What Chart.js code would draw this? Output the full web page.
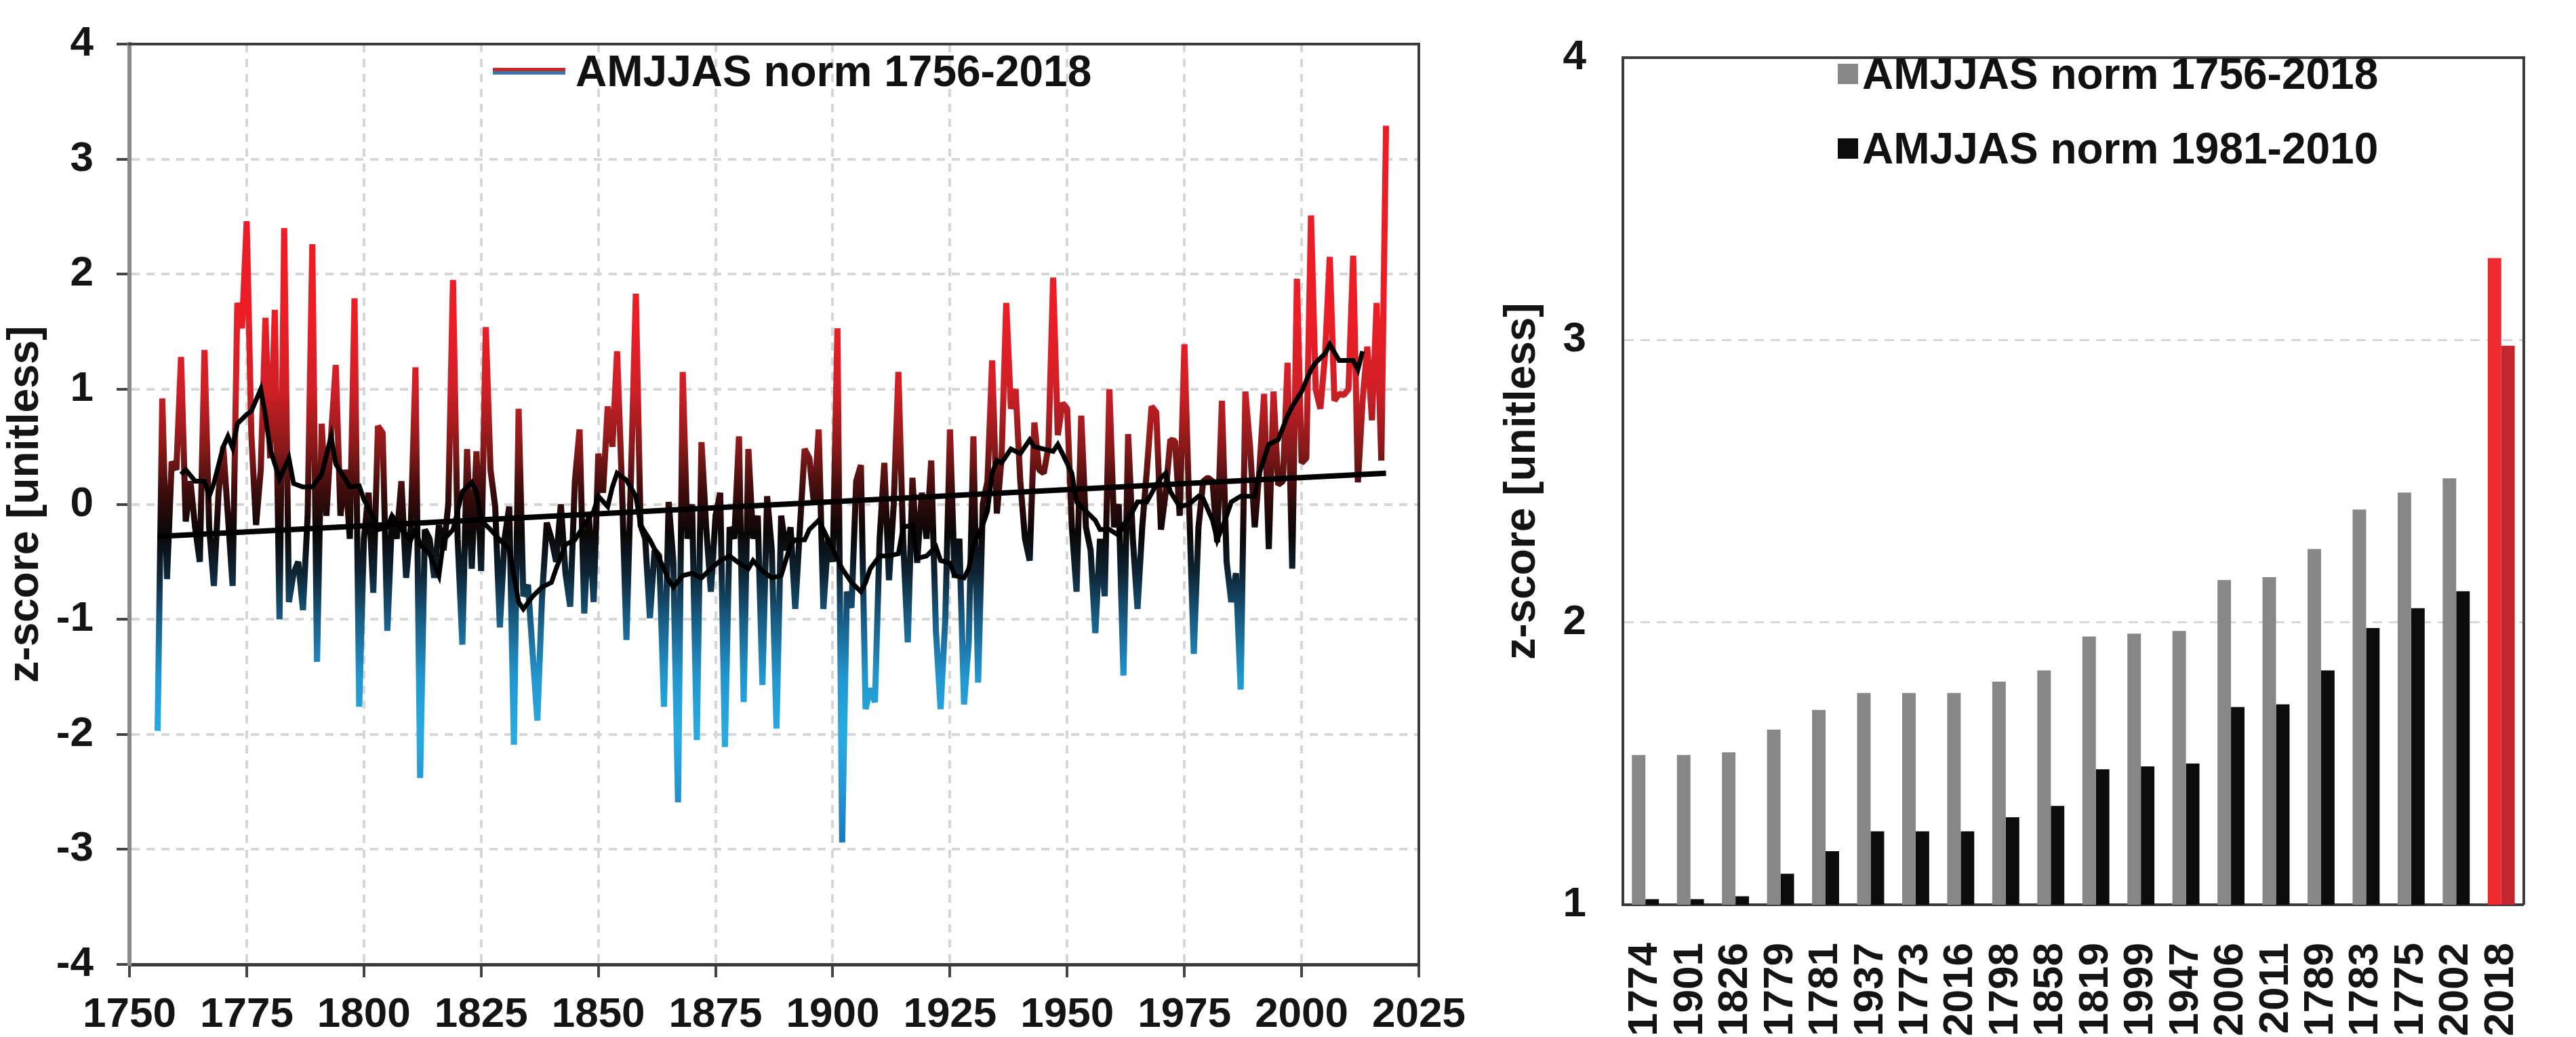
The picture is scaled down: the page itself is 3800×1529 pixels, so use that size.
<!DOCTYPE html>
<html lang="en">
<head>
  <meta charset="UTF-8">
  <title>AMJJAS z-score</title>
  <script src="https://cdn.jsdelivr.net/npm/chart.js"></script>
  <style>
    body {
      margin: 0;
      background: #fff;
      font-family: "Liberation Sans", Arial, sans-serif;
    }
    #page {
      position: relative;
      width: 3800px;
      height: 1529px;
    }
    .box {
      position: absolute;
      top: 0;
      height: 1529px;
    }
    .legend {
      position: absolute;
      font-weight: bold;
      font-size: 64px;
      line-height: 1;
      color: #111;
    }
    .legend .item {
      display: flex;
      align-items: center;
      white-space: nowrap;
    }
    .legend .swatch {
      flex: none;
    }
  </style>
</head>
<body>
  <div id="page">
    <div class="box" style="left:0;width:2200px"><canvas id="seriesChart"></canvas></div>
    <div class="box" style="left:2200px;width:1600px"><canvas id="rankChart"></canvas></div>
    <div id="seriesLegend" class="legend" style="left:727px;top:73px"></div>
    <div id="rankLegend" class="legend" style="left:2711px;top:77px"></div>
  </div>

  <script>
    // yearly AMJJAS z-scores, 1756 onwards
    const firstYear = 1756;
    const anomaly = [
      -1.97, 0.92, -0.65, 0.37, 0.3, 1.28, -0.15, 0.2, -0.2, -0.5,          // 1756-1765
      1.34, -0.2, -0.71, 0.1, 0.5, -0.1, -0.71, 1.75, 1.53, 2.46,           // 1766-1775
      0.6, -0.18, 0.3, 1.62, 0.4, 1.69, -1.0, 2.40, -0.85, -0.6,            // 1776-1785
      -0.5, -0.92, -0.1, 2.26, -1.37, 0.7, -0.1, 0.6, 1.21, -0.1,           // 1786-1795
      0.3, -0.3, 1.79, -1.76, -0.3, 0.1, -0.77, 0.68, 0.62, -1.1,           // 1796-1805
      -0.1, -0.3, 0.2, -0.64, -0.2, 1.19, -2.38, -0.22, -0.3, -0.64,        // 1806-1815
      -0.18, -0.4, 0.0, 1.95, -0.3, -1.22, 0.48, -0.56, 0.46, -0.58,        // 1816-1825
      1.54, 0.3, -0.02, -1.07, -0.3, -0.02, -2.09, 0.83, -0.8, -0.7,        // 1826-1835
      -1.3, -1.88, -0.8, -0.16, -0.3, -0.5, 0.0, -0.6, -0.89, 0.2,          // 1836-1845
      0.65, -0.95, -0.1, -0.85, 0.44, 0.1, 0.85, 0.5, 1.33, 0.2,            // 1846-1855
      -1.18, 0.3, 1.83, -0.18, -0.3, -0.99, -0.4, -0.45, -1.76, 0.02,       // 1856-1865
      -0.5, -2.59, 1.15, -0.3, 0.0, -2.05, 0.54, -0.2, -0.76, -0.1,         // 1866-1875
      0.1, -2.11, -0.2, -0.3, 0.59, -1.72, 0.48, -0.3, -0.1, -1.57,         // 1876-1885
      0.07, -0.4, -1.95, -0.1, -0.4, -0.2, -0.91, -0.2, 0.48, 0.4,          // 1886-1895
      0.0, 0.65, -0.91, -0.3, -0.5, 1.53, -2.94, -0.76, -0.9, 0.2,          // 1896-1905
      0.34, -1.78, -1.6, -1.72, -0.3, 0.36, -0.66, 0.0, 1.15, -0.3,         // 1906-1915
      -1.2, 0.23, -0.51, 0.1, -0.3, 0.38, -1.1, -1.78, -1.0, 0.65,          // 1916-1925
      -0.64, -0.3, -1.74, -1.2, 0.59, -1.55, 0.0, 0.2, 1.25, -0.08,         // 1926-1935
      0.4, 1.75, 0.83, 1.0, 0.2, -0.3, -0.49, 0.71, 0.3, 0.27,              // 1936-1945
      0.5, 1.97, 0.6, 0.88, 0.83, -0.2, -0.76, 0.77, -0.2, -0.4,            // 1946-1955
      -1.12, -0.3, -0.8, 1.0, -0.2, 0.0, -1.49, 0.61, -0.3, -0.91,          // 1956-1965
      -0.2, 0.3, 0.85, 0.8, -0.22, 0.1, 0.56, 0.55, -0.1, 1.39,             // 1966-1975
      0.0, -1.3, -0.2, 0.2, 0.23, 0.2, -0.33, 0.9, -0.5, -0.85,             // 1976-1985
      -0.6, -1.61, 0.98, 0.5, -0.2, 0.3, 0.96, -0.39, 0.98, 0.17,           // 1986-1995
      0.2, 1.23, -0.56, 1.96, 0.36, 0.4, 2.51, 1.0, 0.83, 1.3,              // 1996-2005
      2.15, 0.9, 0.96, 0.95, 1.0, 2.16, 0.19, 0.9, 1.37, 0.73,              // 2006-2015
      1.75, 0.38, 3.29                                                      // 2016-2018
    ];

    // running mean
    const smoothYears = [
      1761, 1762, 1764, 1766, 1767, 1768, 1770, 1771, 1772, 1773, 1775, 1776, 1778, 1779, 1780,
      1782, 1784, 1785, 1787, 1789, 1791, 1793, 1794, 1796, 1797, 1799, 1800, 1802, 1803, 1805,
      1806, 1808, 1810, 1811, 1812, 1814, 1816, 1817, 1819, 1821, 1823, 1824, 1825, 1827, 1829,
      1831, 1833, 1834, 1836, 1838, 1840, 1841, 1843, 1845, 1847, 1849, 1850, 1852, 1853, 1854,
      1856, 1858, 1859, 1861, 1862, 1864, 1865, 1866, 1868, 1870, 1872, 1874, 1876, 1878, 1880,
      1882, 1883, 1885, 1887, 1889, 1891, 1892, 1894, 1895, 1897, 1898, 1900, 1902, 1904, 1906,
      1907, 1908, 1910, 1912, 1914, 1915, 1917, 1918, 1920, 1922, 1923, 1925, 1926, 1928, 1929,
      1930, 1932, 1933, 1934, 1935, 1936, 1938, 1940, 1942, 1943, 1945, 1947, 1948, 1949, 1951,
      1952, 1954, 1956, 1957, 1959, 1961, 1962, 1964, 1965, 1967, 1969, 1970, 1971, 1972, 1974,
      1976, 1978, 1979, 1981, 1982, 1984, 1985, 1987, 1989, 1990, 1991, 1993, 1995, 1997, 1998,
      2000, 2002, 2003, 2005, 2006, 2008, 2010, 2011, 2012, 2013
    ];
    const smoothValues = [
      0.26, 0.3, 0.2, 0.2, 0.07, 0.18, 0.5, 0.59, 0.49, 0.7, 0.78, 0.81, 1.0, 0.77, 0.48,
      0.22, 0.4, 0.18, 0.15, 0.15, 0.26, 0.59, 0.35, 0.22, 0.15, 0.16, 0.04, -0.11, -0.22, -0.2,
      -0.1, -0.22, -0.31, -0.22, -0.35, -0.43, -0.62, -0.31, -0.22, 0.11, 0.19, 0.11, -0.14, -0.22, -0.31,
      -0.39, -0.85, -0.91, -0.8, -0.72, -0.68, -0.56, -0.35, -0.31, -0.18, -0.06, 0.07, -0.02, 0.15, 0.27,
      0.21, 0.07, -0.18, -0.31, -0.39, -0.56, -0.66, -0.72, -0.62, -0.6, -0.64, -0.56, -0.49, -0.45, -0.51,
      -0.56, -0.49, -0.58, -0.64, -0.62, -0.35, -0.31, -0.31, -0.22, -0.14, -0.22, -0.39, -0.56, -0.68, -0.76,
      -0.68, -0.56, -0.45, -0.45, -0.43, -0.2, -0.18, -0.47, -0.45, -0.37, -0.49, -0.51, -0.62, -0.64, -0.56,
      -0.35, -0.18, -0.06, 0.27, 0.38, 0.36, 0.48, 0.44, 0.56, 0.5, 0.48, 0.46, 0.52, 0.44, 0.27,
      0.02, -0.06, -0.14, -0.22, -0.22, -0.27, -0.18, -0.06, 0.02, 0.02, 0.17, 0.23, 0.27, 0.11, -0.02,
      0.0, 0.07, 0.05, -0.14, -0.31, -0.1, 0.02, 0.07, 0.07, 0.07, 0.27, 0.52, 0.56, 0.77, 0.85,
      0.98, 1.17, 1.23, 1.31, 1.39, 1.25, 1.25, 1.25, 1.17, 1.33
    ];

    // linear trend, end points
    const trendYears = [1756, 2018];
    const trendValues = [-0.28, 0.27];

    // ranking panel
    const hotYear = '2018';
    const rankYears = ['1774', '1901', '1826', '1779', '1781', '1937', '1773', '2016', '1798', '1858',
                       '1819', '1999', '1947', '2006', '2011', '1789', '1783', '1775', '2002', '2018'];
    const normLong = [1.53, 1.53, 1.54, 1.62, 1.69, 1.75, 1.75, 1.75, 1.79, 1.83,
                      1.95, 1.96, 1.97, 2.15, 2.16, 2.26, 2.40, 2.46, 2.51, 3.29];
    const normShort = [1.02, 1.02, 1.03, 1.11, 1.19, 1.26, 1.26, 1.26, 1.31, 1.35,
                       1.48, 1.49, 1.50, 1.70, 1.71, 1.83, 1.98, 2.05, 2.11, 2.98];

    Chart.defaults.font.family = '"Liberation Sans", Arial, sans-serif';
    Chart.defaults.font.weight = 'bold';
    Chart.defaults.color = '#141414';

    const tickFont = { size: 62, lineHeight: 1 };
    const titleFont = { size: 64 };

    // colour of the yearly line follows the value: red high, black near zero, blue low
    const lineStops = [
      [3.4, '#ee1c25'], [1.6, '#ec1d25'], [1.0, '#d01f27'], [0.5, '#8a1919'], [0.1, '#3a0c0c'],
      [-0.25, '#0a0606'], [-0.6, '#0e2535'], [-1.0, '#185c84'], [-1.5, '#2296cf'],
      [-2.0, '#29abe2'], [-2.5, '#2394d4'], [-3.0, '#1b74bb']
    ];

    function valueGradient(context) {
      const chart = context.chart;
      if (!chart.chartArea) return '#c00';
      const y = chart.scales.y;
      const top = y.getPixelForValue(lineStops[0][0]);
      const bottom = y.getPixelForValue(lineStops[lineStops.length - 1][0]);
      const g = chart.ctx.createLinearGradient(0, top, 0, bottom);
      lineStops.forEach(([v, c]) => g.addColorStop((y.getPixelForValue(v) - top) / (bottom - top), c));
      return g;
    }

    function pairs(xs, ys) {
      return xs.map((x, i) => ({ x: x, y: ys[i] }));
    }

    // top and right edges of the plot box
    const frame = {
      id: 'frame',
      afterDatasetsDraw(chart, args, opts) {
        const { ctx, chartArea: a } = chart;
        ctx.save();
        ctx.strokeStyle = opts.color;
        ctx.lineWidth = opts.width;
        ctx.beginPath();
        ctx.moveTo(a.left - opts.width / 2, a.top);
        ctx.lineTo(a.right, a.top);
        ctx.lineTo(a.right, a.bottom);
        ctx.stroke();
        ctx.restore();
      }
    };

    // legend as html text, built from the datasets that carry a swatch
    const htmlLegend = {
      id: 'htmlLegend',
      afterUpdate(chart, args, opts) {
        const box = document.getElementById(opts.containerID);
        box.innerHTML = '';
        chart.data.datasets.forEach(ds => {
          if (!ds.swatch) return;
          const item = document.createElement('div');
          item.className = 'item';
          item.style.marginBottom = opts.rowGap + 'px';
          const sw = document.createElement('span');
          sw.className = 'swatch';
          sw.style.width = opts.boxWidth + 'px';
          sw.style.height = opts.boxHeight + 'px';
          sw.style.background = ds.swatch;
          sw.style.marginRight = opts.gap + 'px';
          const text = document.createElement('span');
          text.textContent = ds.label;
          item.append(sw, text);
          box.append(item);
        });
      }
    };

    new Chart(document.getElementById('seriesChart'), {
      type: 'line',
      plugins: [frame, htmlLegend],
      data: {
        datasets: [
          {
            label: 'trend',
            data: pairs(trendYears, trendValues),
            borderColor: '#000',
            borderWidth: 8,
            pointRadius: 0
          },
          {
            label: 'running mean',
            data: pairs(smoothYears, smoothValues),
            borderColor: '#000',
            borderWidth: 7,
            pointRadius: 0
          },
          {
            label: 'AMJJAS norm 1756-2018',
            data: anomaly.map((v, i) => ({ x: firstYear + i, y: v })),
            borderColor: valueGradient,
            borderWidth: 9,
            borderJoinStyle: 'bevel',
            pointRadius: 0,
            swatch: 'linear-gradient(#c4282d 50%, #3b78aa 50%)'
          }
        ]
      },
      options: {
        responsive: true,
        maintainAspectRatio: false,
        animation: false,
        devicePixelRatio: 1,
        layout: { padding: { top: 31, right: 107, left: 0, bottom: 0 } },
        plugins: {
          legend: { display: false },
          tooltip: { enabled: false },
          frame: { color: '#3c3c3c', width: 4 },
          htmlLegend: { containerID: 'seriesLegend', boxWidth: 107, boxHeight: 10, gap: 15, rowGap: 0 }
        },
        scales: {
          x: {
            type: 'linear',
            min: 1750,
            max: 2025,
            ticks: { stepSize: 25, font: tickFont, padding: 25, callback: v => String(v) },
            grid: { color: '#d6d6d6', lineWidth: 4, tickLength: 19, tickColor: '#444', tickWidth: 4 },
            border: { color: '#3a3a3a', width: 5, dash: [12, 10] },
            afterFit(s) { s.height = 107; }
          },
          y: {
            min: -4,
            max: 4,
            ticks: { stepSize: 1, font: tickFont, padding: 34 },
            grid: { color: '#d6d6d6', lineWidth: 4, tickLength: 19, tickColor: '#444', tickWidth: 4 },
            border: { color: '#8a8a8a', width: 6, dash: [12, 10] },
            title: { display: true, text: 'z-score [unitless]', font: titleFont, padding: { top: 0, bottom: 0 } },
            afterFit(s) { s.width = 191; }
          }
        }
      }
    });

    new Chart(document.getElementById('rankChart'), {
      type: 'bar',
      plugins: [frame, htmlLegend],
      data: {
        labels: rankYears,
        datasets: [
          {
            label: 'AMJJAS norm 1756-2018',
            data: normLong,
            backgroundColor: rankYears.map(y => y === hotYear ? '#ee2a2e' : '#878787'),
            swatch: '#878787'
          },
          {
            label: 'AMJJAS norm 1981-2010',
            data: normShort,
            backgroundColor: rankYears.map(y => y === hotYear ? '#c1272d' : '#0c0c0c'),
            swatch: '#0c0c0c'
          }
        ]
      },
      options: {
        responsive: true,
        maintainAspectRatio: false,
        animation: false,
        devicePixelRatio: 1,
        layout: { padding: { top: 37, right: 10, left: 0, bottom: 0 } },
        datasets: { bar: { categoryPercentage: 0.6, barPercentage: 1.0 } },
        plugins: {
          legend: { display: false },
          tooltip: { enabled: false },
          frame: { color: '#3c3c3c', width: 4 },
          htmlLegend: { containerID: 'rankLegend', boxWidth: 30, boxHeight: 30, gap: 6, rowGap: 46 }
        },
        scales: {
          x: {
            ticks: { minRotation: 90, maxRotation: 90, autoSkip: false, font: tickFont, padding: 48 },
            grid: { display: false },
            border: { color: '#3a3a3a', width: 4 },
            afterFit(s) { s.height = 195; }
          },
          y: {
            min: 1,
            max: 4,
            ticks: { stepSize: 1, font: tickFont, padding: 54 },
            grid: { color: '#d9d9d9', lineWidth: 3, drawTicks: false },
            border: { color: '#3a3a3a', width: 4, dash: [14, 10] },
            title: { display: true, text: 'z-score [unitless]', font: titleFont, padding: { top: 8, bottom: 0 } },
            afterFit(s) { s.width = 194; }
          }
        }
      }
    });
  </script>
</body>
</html>
